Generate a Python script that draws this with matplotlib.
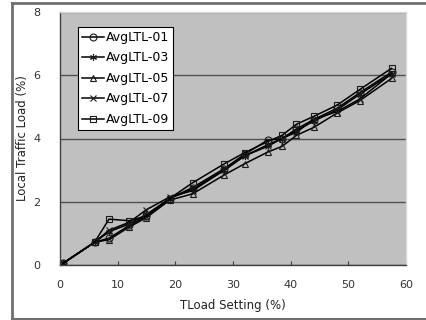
import matplotlib
matplotlib.use('Agg')

import matplotlib.pyplot as plt
from matplotlib.lines import Line2D

tload = [0.5, 6, 8.5, 12, 15, 19, 23, 28.5, 32, 36, 38.5, 41, 44, 48, 52, 57.5]

ltl_01 = [0.05, 0.72, 0.85, 1.25, 1.55, 2.10, 2.45, 3.05, 3.50, 3.95, 4.00, 4.30, 4.60, 4.95, 5.45, 6.10]
ltl_03 = [0.05, 0.72, 1.05, 1.30, 1.60, 2.10, 2.40, 3.00, 3.45, 3.80, 4.00, 4.25, 4.55, 4.90, 5.40, 6.05]
ltl_05 = [0.05, 0.72, 0.80, 1.20, 1.50, 2.05, 2.25, 2.85, 3.20, 3.57, 3.75, 4.10, 4.35, 4.80, 5.20, 5.90]
ltl_07 = [0.05, 0.72, 1.10, 1.35, 1.75, 2.15, 2.35, 3.00, 3.45, 3.75, 4.00, 4.20, 4.60, 4.85, 5.25, 6.05]
ltl_09 = [0.05, 0.72, 1.45, 1.40, 1.55, 2.10, 2.60, 3.20, 3.55, 3.90, 4.10, 4.45, 4.70, 5.05, 5.55, 6.22]

series = [('AvgLTL-01', ltl_01, 'o'),
          ('AvgLTL-03', ltl_03, (6, 2, 0)),
          ('AvgLTL-05', ltl_05, '^'),
          ('AvgLTL-07', ltl_07, 'x'),
          ('AvgLTL-09', ltl_09, 's')]

fig = plt.figure(figsize=(4.27, 3.2), dpi=100)
fig.patch.set_facecolor('white')
ax = fig.add_axes([60/427, 1-265/320, 346/427, 253/320])
ax.set_facecolor('#c0c0c0')

for sLabel, vals, mk in series:
	ax.plot(tload, vals, color='black', linewidth=1.1, marker=mk,
		markersize=5, markerfacecolor='none', markeredgecolor='#1a1a1a',
		markeredgewidth=0.8, label=sLabel)

ax.set_xlim(0, 60)
ax.set_ylim(0, 8)
ax.set_xticks([0, 10, 20, 30, 40, 50, 60])
ax.set_yticks([0, 2, 4, 6, 8])
ax.yaxis.grid(True, color='#505050', linewidth=1.0)
ax.set_axisbelow(True)

for side in ['left', 'bottom']:
	ax.spines[side].set_color('#404040')
	ax.spines[side].set_linewidth(1.0)
for side in ['top', 'right']:
	ax.spines[side].set_color('#d8d8d8')
	ax.spines[side].set_linewidth(1.0)

ax.tick_params(axis='x', direction='in', length=3, color='#404040', pad=11,
	labelsize=8, labelcolor='#333333')
ax.tick_params(axis='y', length=0, pad=14, labelsize=8, labelcolor='#333333')

ax.set_xlabel('TLoad Setting (%)', fontsize=8.5, color='#222222', labelpad=6)
ax.set_ylabel('Local Traffic Load (%)', fontsize=8.5, color='#222222')
ax.yaxis.set_label_coords(-0.09, 0.5)

leg = ax.legend(loc='upper left', bbox_to_anchor=(0.052, 0.94), fontsize=9,
	frameon=True, fancybox=False, framealpha=1, edgecolor='black',
	handlelength=1.8, handletextpad=0.1, borderpad=0.3, labelspacing=0.6,
	borderaxespad=0)
leg.get_frame().set_linewidth(0.8)

# outer frame of the figure
fig.add_artist(Line2D([12.5/427, 12.5/427], [1-3/320, 1-318.5/320], color='#707070', linewidth=2))
fig.add_artist(Line2D([12.5/427, 1], [1-3/320, 1-3/320], color='#707070', linewidth=2))
fig.add_artist(Line2D([12.5/427, 1], [1-318.5/320, 1-318.5/320], color='#707070', linewidth=1.5))

plt.savefig('out.png', dpi=100)
